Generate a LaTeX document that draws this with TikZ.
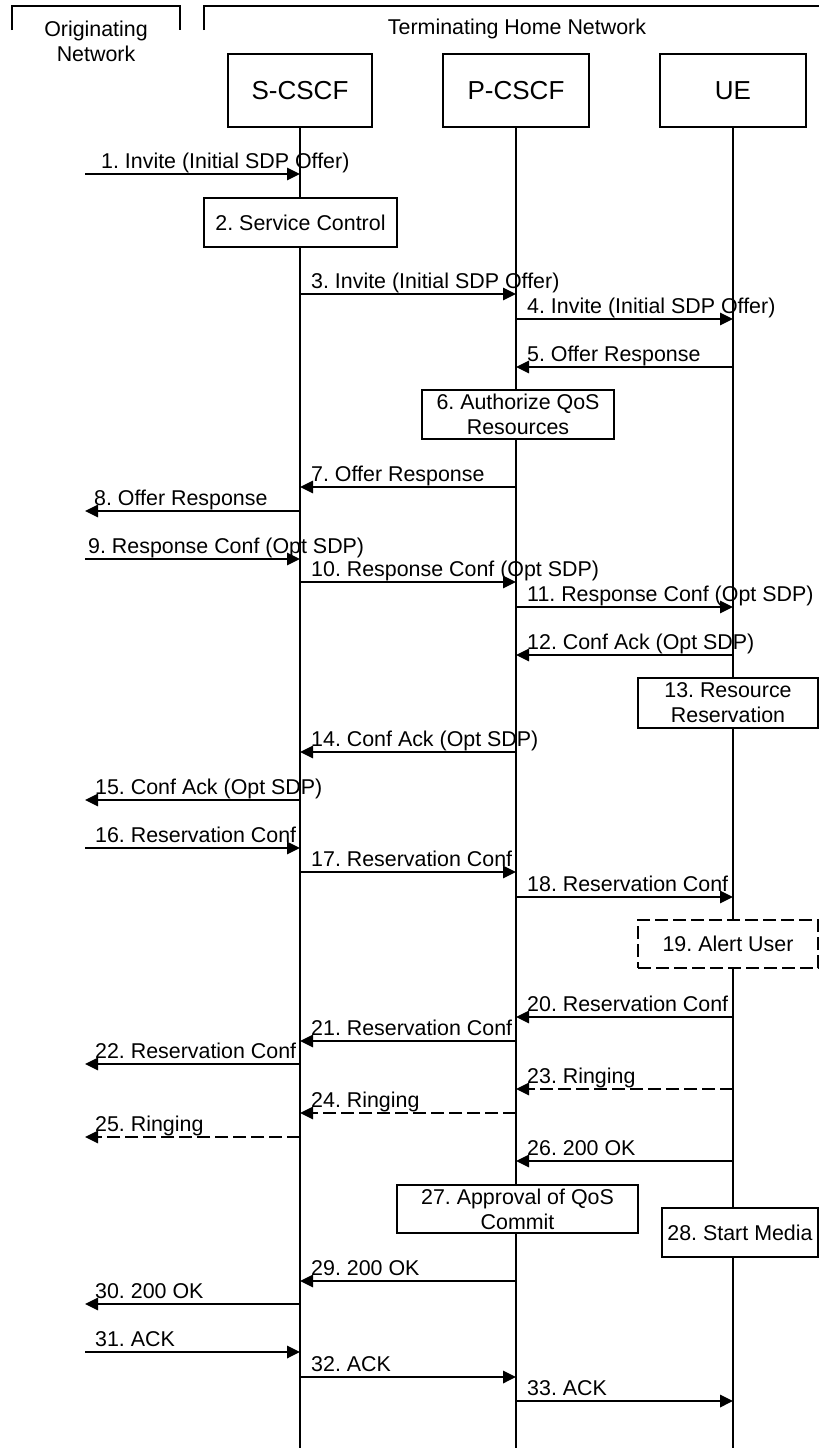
\documentclass[tikz,border=0pt]{standalone}
\usepackage{fontspec}
\setmainfont{Liberation Sans}
\usetikzlibrary{arrows.meta}
\frenchspacing
\newcommand\lblfont{\fontsize{21.4}{25}\selectfont}
\newcommand\hdrfont{\fontsize{26}{30}\selectfont}
\tikzset{
  hbox/.style={draw, line width=1.2pt, fill=white, inner sep=0pt, minimum height=73pt, font=\hdrfont},
  sbox/.style={draw, line width=1.2pt, fill=white, inner sep=0pt, align=center, font=\lblfont},
  dbox/.style={sbox, dash pattern=on 13pt off 5pt},
  life/.style={line width=1.3pt},
  msg/.style={line width=1.7pt, -{Triangle[length=13pt,width=12.5pt]}},
  dmsg/.style={msg, dash pattern=on 13pt off 5pt},
  lbl/.style={anchor=base west, inner sep=0pt, font=\lblfont},
  brk/.style={line width=1.3pt},
}
\begin{document}
\begin{tikzpicture}[x=1pt,y=-1pt]
\useasboundingbox (0,0) rectangle (819,1448);
% network brackets
\draw[brk] (12,30) -- (12,6) -- (180,6) -- (180,30);
\draw[brk] (204,30) -- (204,6) -- (819,6);
\node[align=center, inner sep=0pt, font=\lblfont] (orig) at (96,41.5) {Originating\\Network};
\node[inner sep=0pt, font=\lblfont] (term) at (517,29) {Terminating Home Network};
% header boxes
\node[hbox, minimum width=144pt] (S) at (300,90.5) {S-CSCF};
\node[hbox, minimum width=146pt] (P) at (516,90.5) {P-CSCF};
\node[hbox, minimum width=146pt] (U) at (733,90.5) {UE};
\coordinate (O) at (85,127);
% lifelines
\coordinate (Send) at (300,1448);
\coordinate (Pend) at (516,1448);
\coordinate (Uend) at (733,1448);
\draw[life] (S.south) -- (Send);
\draw[life] (P.south) -- (Pend);
\draw[life] (U.south) -- (Uend);
% boxes
\node[sbox, minimum width=193pt, minimum height=49pt] (b2) at (300.5,222.5) {2. Service Control};
\node[sbox, minimum width=192pt, minimum height=49pt] (b6) at (518,414.5) {6. Authorize QoS\\Resources};
\node[sbox, minimum width=180pt, minimum height=50pt] (b13) at (728,703) {13. Resource\\Reservation};
\node[dbox, minimum width=180pt, minimum height=48pt] (b19) at (728,944) {19. Alert User};
\node[sbox, minimum width=241pt, minimum height=48pt] (b27) at (517.5,1209) {27. Approval of QoS\\Commit};
\node[sbox, minimum width=156pt, minimum height=49pt] (b28) at (740,1232.5) {28. Start Media};
% messages
\draw[msg] (O |- 0,174) -- (S |- 0,174);
\node[lbl] (l1) at (101,168) {1. Invite (Initial SDP Offer)};
\draw[msg] (S |- 0,294) -- (P |- 0,294);
\node[lbl] (l3) at (311,288) {3. Invite (Initial SDP Offer)};
\draw[msg] (P |- 0,319) -- (U |- 0,319);
\node[lbl] (l4) at (527,313) {4. Invite (Initial SDP Offer)};
\draw[msg] (U |- 0,367) -- (P |- 0,367);
\node[lbl] (l5) at (527,361) {5. Offer Response};
\draw[msg] (P |- 0,487) -- (S |- 0,487);
\node[lbl] (l7) at (311,481) {7. Offer Response};
\draw[msg] (S |- 0,511) -- (O |- 0,511);
\node[lbl] (l8) at (94,505) {8. Offer Response};
\draw[msg] (O |- 0,559) -- (S |- 0,559);
\node[lbl] (l9) at (88,553) {9. Response Conf (Opt SDP)};
\draw[msg] (S |- 0,582) -- (P |- 0,582);
\node[lbl] (l10) at (311,576) {10. Response Conf (Opt SDP)};
\draw[msg] (P |- 0,607) -- (U |- 0,607);
\node[lbl] (l11) at (527,601) {11. Response Conf (Opt SDP)};
\draw[msg] (U |- 0,655) -- (P |- 0,655);
\node[lbl] (l12) at (527,649) {12. Conf Ack (Opt SDP)};
\draw[msg] (P |- 0,752) -- (S |- 0,752);
\node[lbl] (l14) at (311,746) {14. Conf Ack (Opt SDP)};
\draw[msg] (S |- 0,800) -- (O |- 0,800);
\node[lbl] (l15) at (95,794) {15. Conf Ack (Opt SDP)};
\draw[msg] (O |- 0,848) -- (S |- 0,848);
\node[lbl] (l16) at (95,842) {16. Reservation Conf};
\draw[msg] (S |- 0,872) -- (P |- 0,872);
\node[lbl] (l17) at (311,866) {17. Reservation Conf};
\draw[msg] (P |- 0,897) -- (U |- 0,897);
\node[lbl] (l18) at (527,891) {18. Reservation Conf};
\draw[msg] (U |- 0,1017) -- (P |- 0,1017);
\node[lbl] (l20) at (527,1011) {20. Reservation Conf};
\draw[msg] (P |- 0,1041) -- (S |- 0,1041);
\node[lbl] (l21) at (311,1035) {21. Reservation Conf};
\draw[msg] (S |- 0,1064) -- (O |- 0,1064);
\node[lbl] (l22) at (95,1058.5) {22. Reservation Conf};
\draw[dmsg] (U |- 0,1089) -- (P |- 0,1089);
\node[lbl] (l23) at (527,1083) {23. Ringing};
\draw[dmsg] (P |- 0,1113) -- (S |- 0,1113);
\node[lbl] (l24) at (311,1107) {24. Ringing};
\draw[dmsg] (S |- 0,1137) -- (O |- 0,1137);
\node[lbl] (l25) at (95,1131) {25. Ringing};
\draw[msg] (U |- 0,1161) -- (P |- 0,1161);
\node[lbl] (l26) at (527,1155) {26. 200 OK};
\draw[msg] (P |- 0,1281) -- (S |- 0,1281);
\node[lbl] (l29) at (311,1275) {29. 200 OK};
\draw[msg] (S |- 0,1304) -- (O |- 0,1304);
\node[lbl] (l30) at (95,1298) {30. 200 OK};
\draw[msg] (O |- 0,1352) -- (S |- 0,1352);
\node[lbl] (l31) at (95,1346) {31. ACK};
\draw[msg] (S |- 0,1377) -- (P |- 0,1377);
\node[lbl] (l32) at (311,1371) {32. ACK};
\draw[msg] (P |- 0,1401) -- (U |- 0,1401);
\node[lbl] (l33) at (527,1395) {33. ACK};
\end{tikzpicture}
\end{document}
